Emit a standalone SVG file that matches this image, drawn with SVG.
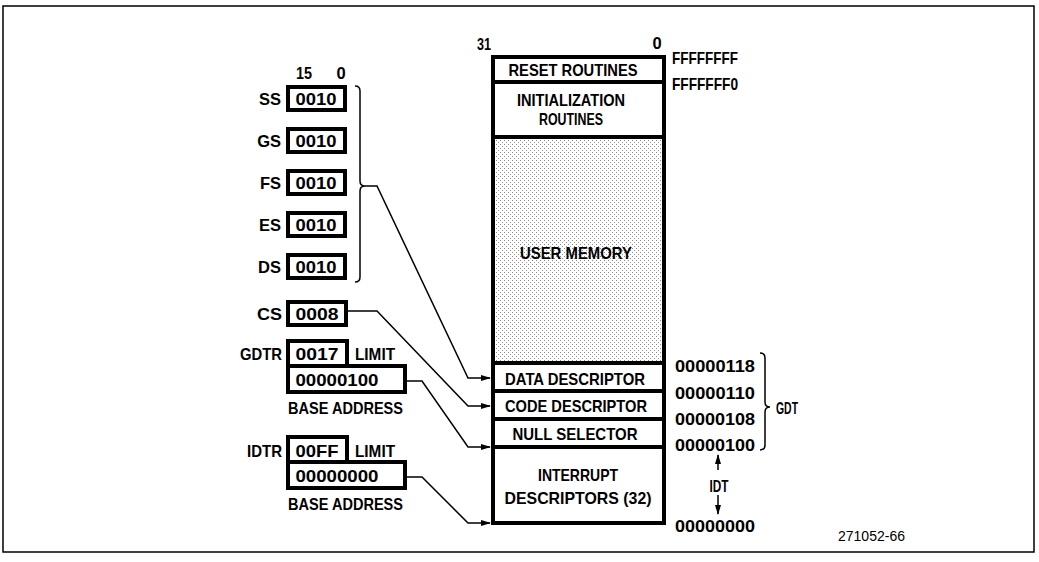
<svg xmlns="http://www.w3.org/2000/svg" width="1039" height="562" viewBox="0 0 1039 562">
<style>
text{font-family:"Liberation Sans",Arial,sans-serif;font-weight:bold;font-size:16.5px;fill:#000}
.c{text-anchor:middle}
.e{text-anchor:end}
.box{fill:#fff;stroke:#000;stroke-width:4}
.div{stroke:#000;stroke-width:4;fill:none}
.ln{stroke:#000;stroke-width:1.5;fill:none}
.small{font-size:14px;font-weight:normal}
</style>
<defs>
<pattern id="dots" width="4" height="4" patternUnits="userSpaceOnUse">
<rect width="4" height="4" fill="#fff"/>
<rect x="0" y="0" width="1" height="1" fill="#888"/>
<rect x="2" y="2" width="1" height="1" fill="#999"/>
</pattern>
<marker id="ar" markerWidth="10" markerHeight="8" refX="9" refY="4" orient="auto" markerUnits="userSpaceOnUse">
<path d="M0,1 L10,4 L0,7 z" fill="#000"/>
</marker>
</defs>
<rect width="1039" height="562" fill="#fff"/>
<rect x="3" y="6" width="1031" height="546" fill="none" stroke="#000" stroke-width="1.5"/>

<g id="memory">
<rect x="493" y="57" width="171" height="466" class="box"/>
<rect x="495" y="139" width="167" height="222" fill="url(#dots)"/>
<line x1="493" y1="82" x2="664" y2="82" class="div"/>
<line x1="493" y1="137" x2="664" y2="137" class="div"/>
<line x1="493" y1="363" x2="664" y2="363" class="div"/>
<line x1="493" y1="391" x2="664" y2="391" class="div"/>
<line x1="493" y1="419" x2="664" y2="419" class="div"/>
<line x1="493" y1="447" x2="664" y2="447" class="div"/>
<text x="484" y="50" class="c" textLength="14" lengthAdjust="spacingAndGlyphs">31</text>
<text x="657" y="49" class="c">0</text>
<text x="573" y="76" class="c" textLength="129" lengthAdjust="spacingAndGlyphs">RESET ROUTINES</text>
<text x="571" y="106" class="c" textLength="108" lengthAdjust="spacingAndGlyphs">INITIALIZATION</text>
<text x="571" y="125" class="c" textLength="64" lengthAdjust="spacingAndGlyphs">ROUTINES</text>
<text x="576" y="259" class="c" textLength="112" lengthAdjust="spacingAndGlyphs">USER MEMORY</text>
<text x="575" y="385" class="c" textLength="140" lengthAdjust="spacingAndGlyphs">DATA DESCRIPTOR</text>
<text x="576" y="412" class="c" textLength="142" lengthAdjust="spacingAndGlyphs">CODE DESCRIPTOR</text>
<text x="575" y="440" class="c" textLength="125" lengthAdjust="spacingAndGlyphs">NULL SELECTOR</text>
<text x="578" y="481" class="c" textLength="80" lengthAdjust="spacingAndGlyphs">INTERRUPT</text>
<text x="578" y="504" class="c" textLength="147" lengthAdjust="spacingAndGlyphs">DESCRIPTORS (32)</text>
</g>

<g id="addresses">
<text x="672" y="64" textLength="66" lengthAdjust="spacingAndGlyphs">FFFFFFFF</text>
<text x="672" y="90" textLength="66" lengthAdjust="spacingAndGlyphs">FFFFFFF0</text>
<text x="675" y="372" textLength="80" lengthAdjust="spacingAndGlyphs">00000118</text>
<text x="675" y="399" textLength="80" lengthAdjust="spacingAndGlyphs">00000110</text>
<text x="675" y="425" textLength="80" lengthAdjust="spacingAndGlyphs">00000108</text>
<text x="675" y="451" textLength="80" lengthAdjust="spacingAndGlyphs">00000100</text>
<text x="675" y="532" textLength="80" lengthAdjust="spacingAndGlyphs">00000000</text>
</g>

<g id="gdt">
<path class="ln" d="M760,353 Q765,353 765,358 V402 Q765,407 770,407 Q765,407 765,412 V445 Q765,450 760,450"/>
<text x="776" y="414" textLength="22" lengthAdjust="spacingAndGlyphs">GDT</text>
</g>

<g id="idt">
<line x1="718" y1="470" x2="718" y2="455" class="ln" marker-end="url(#ar)"/>
<text x="719" y="492" class="c" textLength="19" lengthAdjust="spacingAndGlyphs">IDT</text>
<line x1="718" y1="495" x2="718" y2="514" class="ln" marker-end="url(#ar)"/>
</g>

<g id="segregs">
<text x="304" y="79" class="c" textLength="16" lengthAdjust="spacingAndGlyphs">15</text>
<text x="341" y="79" class="c">0</text>
<rect x="288" y="87" width="57" height="23" class="box"/>
<text x="281" y="105" class="e">SS</text>
<text x="316" y="105" class="c" textLength="41" lengthAdjust="spacingAndGlyphs">0010</text>
<rect x="288" y="129" width="57" height="23" class="box"/>
<text x="281" y="147" class="e">GS</text>
<text x="316" y="147" class="c" textLength="41" lengthAdjust="spacingAndGlyphs">0010</text>
<rect x="288" y="171" width="57" height="23" class="box"/>
<text x="281" y="189" class="e">FS</text>
<text x="316" y="189" class="c" textLength="41" lengthAdjust="spacingAndGlyphs">0010</text>
<rect x="288" y="213" width="57" height="23" class="box"/>
<text x="281" y="231" class="e">ES</text>
<text x="316" y="231" class="c" textLength="41" lengthAdjust="spacingAndGlyphs">0010</text>
<rect x="288" y="255" width="57" height="23" class="box"/>
<text x="281" y="273" class="e">DS</text>
<text x="316" y="273" class="c" textLength="41" lengthAdjust="spacingAndGlyphs">0010</text>
<path class="ln" d="M355,86 Q360,86 360,91 V181 Q360,186 365,186 Q360,186 360,191 V277 Q360,282 355,282"/>
</g>

<g id="cs">
<rect x="288" y="302" width="58" height="23" class="box"/>
<text x="282" y="320" class="e" textLength="25" lengthAdjust="spacingAndGlyphs">CS</text>
<text x="317" y="320" class="c" textLength="43" lengthAdjust="spacingAndGlyphs">0008</text>
</g>

<g id="gdtr">
<rect x="288" y="341" width="59" height="25" class="box"/>
<rect x="288" y="366" width="117" height="26" class="box"/>
<text x="282" y="360" class="e" textLength="42" lengthAdjust="spacingAndGlyphs">GDTR</text>
<text x="317" y="360" class="c" textLength="43" lengthAdjust="spacingAndGlyphs">0017</text>
<text x="355" y="360" textLength="40" lengthAdjust="spacingAndGlyphs">LIMIT</text>
<text x="337" y="386" class="c" textLength="83" lengthAdjust="spacingAndGlyphs">00000100</text>
<text x="288" y="414" textLength="115" lengthAdjust="spacingAndGlyphs">BASE ADDRESS</text>
</g>

<g id="idtr">
<rect x="288" y="437" width="59" height="25" class="box"/>
<rect x="288" y="462" width="117" height="26" class="box"/>
<text x="282" y="457" class="e" textLength="35" lengthAdjust="spacingAndGlyphs">IDTR</text>
<text x="317" y="457" class="c" textLength="43" lengthAdjust="spacingAndGlyphs">00FF</text>
<text x="355" y="457" textLength="40" lengthAdjust="spacingAndGlyphs">LIMIT</text>
<text x="337" y="482" class="c" textLength="83" lengthAdjust="spacingAndGlyphs">00000000</text>
<text x="288" y="510" textLength="115" lengthAdjust="spacingAndGlyphs">BASE ADDRESS</text>
</g>

<g id="connectors">
<path class="ln" d="M365,186 H377 L468,378 H490" marker-end="url(#ar)"/>
<path class="ln" d="M347,311 H377 L468,406 H490" marker-end="url(#ar)"/>
<path class="ln" d="M406,381 H422 L468,447 H490" marker-end="url(#ar)"/>
<path class="ln" d="M406,477 H422 L468,523 H490" marker-end="url(#ar)"/>
</g>

<text x="838" y="541" class="small" textLength="67" lengthAdjust="spacingAndGlyphs">271052-66</text>
</svg>
